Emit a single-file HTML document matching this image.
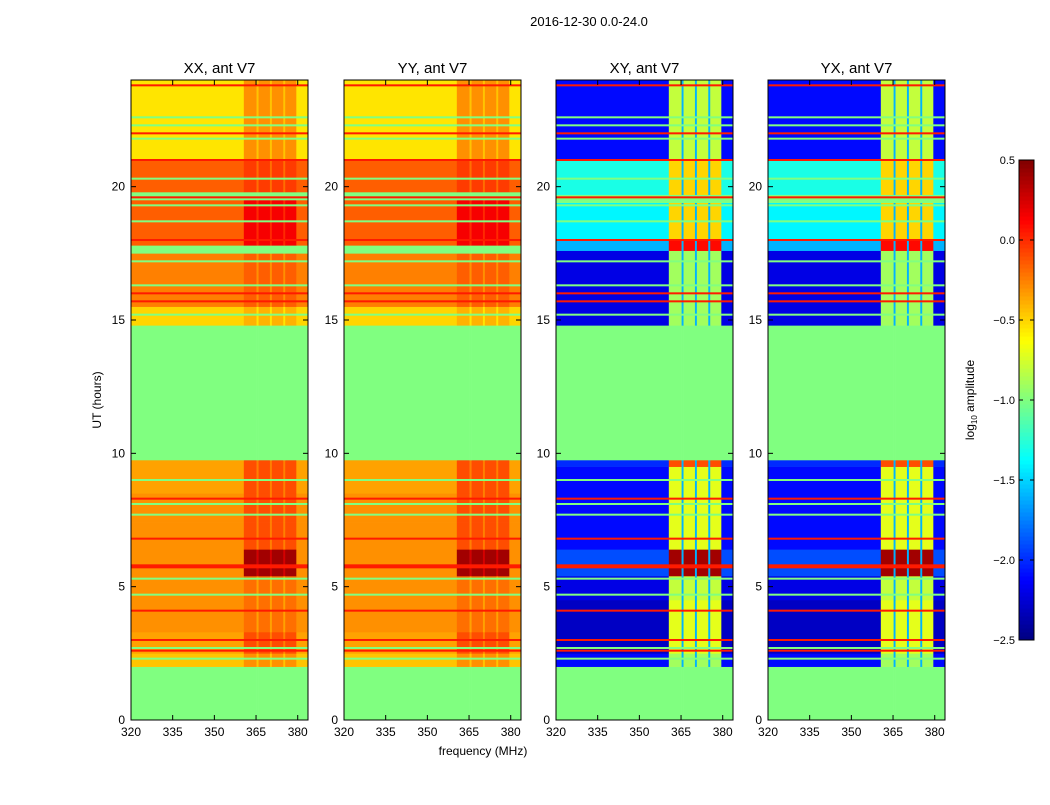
<!DOCTYPE html>
<html><head><meta charset="utf-8"><style>
body{margin:0;background:#fff;}
svg text{font-family:"Liberation Sans",sans-serif;}
</style></head><body>
<svg id="fig" width="1050" height="800" xmlns="http://www.w3.org/2000/svg">
<rect width="1050" height="800" fill="#fff"/>
<text x="589" y="26" font-size="13" text-anchor="middle">2016-12-30 0.0-24.0</text>
<text transform="translate(101,400) rotate(-90)" font-size="12" text-anchor="middle">UT (hours)</text>
<text x="483" y="755" font-size="12" text-anchor="middle">frequency (MHz)</text>
<g id="panels"></g>
<g id="cbar"></g>
</svg>
<script>
// ---- data ----
const panelTitles = ["XX, ant V7","YY, ant V7","XY, ant V7","YX, ant V7"];
const panelKind = ["par","par","cross","cross"];
const xTicks = [320,335,350,365,380];
const yTicks = [0,5,10,15,20];
const cbarTicks = [0.5,0.0,-0.5,-1.0,-1.5,-2.0,-2.5];
// frequency segments [start MHz, end MHz, type]
const freqSegs = [[320,360.6,'L'],[360.6,365.2,'H'],[365.2,365.9,'S'],[365.9,370,'H'],[370,370.7,'S'],[370.7,374.8,'H'],[374.8,375.5,'S'],[375.5,379.5,'H'],[379.5,383.7,'L']];
// time rows [start h, end h, low-band value, high-band value]
const parRows = [[0,2,-1,-1],[2,2.5,-0.45,-0.3],[2.5,3.3,-0.35,-0.1],[3.3,4.5,-0.3,-0.2],[4.5,5.4,-0.3,-0.2],[5.4,6.4,-0.3,0.4],[6.4,7.4,-0.3,-0.1],[7.4,8.5,-0.3,-0.1],[8.5,9.75,-0.35,-0.1],[9.75,14.8,-1,-1],[14.8,15.5,-0.5,-0.4],[15.5,17.5,-0.25,-0.15],[17.5,17.8,-1,-1],[17.8,19.5,-0.15,0.15],[19.5,19.8,-1,-1],[19.8,21,-0.15,-0.05],[21,22.5,-0.55,-0.3],[22.5,24,-0.55,-0.3]];
const crossRows = [[0,2,-1,-1],[2,2.5,-2.1,-0.9],[2.5,4.5,-2.3,-0.7],[4.5,5.4,-2.2,-0.8],[5.4,6.4,-1.9,0.4],[6.4,9.5,-2.1,-0.7],[9.5,9.75,-2.0,-0.1],[9.75,14.8,-1,-1],[14.8,17.6,-2.2,-0.9],[17.6,18,-1.6,0.1],[18,19.4,-1.4,-0.5],[19.4,19.7,-1,-1],[19.7,21,-1.3,-0.5],[21,24,-2.1,-0.8]];
const greenLines = [2.3,2.7,4.7,5.3,7.7,8.1,9.0,15.2,16.3,17.2,18.7,19.3,20.3,21.8,22.3,22.6];
const redLines = [2.6,3.0,4.1,5.8,6.8,8.3,15.7,16.0,18.0,19.6,21.0,22.0,23.8];
// ---- layout ----
const panelX = [131,344,556,768], panelW = 177, topY = 80, botY = 720;
const fmin = 320, fmax = 383.7, tmin = 0, tmax = 24, vmin = -2.5, vmax = 0.5;
const NS = "http://www.w3.org/2000/svg";
function jet(v){const t=Math.max(0,Math.min(1,(v-vmin)/(vmax-vmin)));const c=x=>Math.round(255*Math.max(0,Math.min(1,1.5-Math.abs(4*t-x))));return `rgb(${c(3)},${c(2)},${c(1)})`;}
function mk(tag,attrs,parent){const e=document.createElementNS(NS,tag);for(const k in attrs)e.setAttribute(k,attrs[k]);parent.appendChild(e);return e;}
const panels = document.getElementById('panels');
panelX.forEach((px,i)=>{
  const xs = f=>px+(f-fmin)/(fmax-fmin)*panelW;
  const ys = h=>botY-(h-tmin)/(tmax-tmin)*(botY-topY);
  const g = mk('g',{},panels);
  
  
  const rows = panelKind[i]==='par'?parRows:crossRows;
  rows.forEach(r=>{
    freqSegs.forEach(s=>{
      let v = s[2]==='L'?r[2]:r[3];
      if(s[2]==='S') v = (r[2]===-1&&r[3]===-1)?-1:(panelKind[i]==='par'?r[3]-0.15:-1.6);
      const rc = mk('rect',{x:xs(s[0]),y:ys(r[1]),width:xs(s[1])-xs(s[0])+0.3,height:ys(r[0])-ys(r[1])+0.3,fill:jet(v)},g);
      
      
    });
  });
  greenLines.forEach(h=>{const l=mk('rect',{x:px,y:ys(h)-1,width:panelW,height:2,fill:jet(-1)},g);
    
    });
  redLines.forEach(h=>{const l=mk('rect',{x:px,y:ys(h)-1,width:panelW,height:h===5.8?4:2,fill:jet(0.05)},g);
    
    });
  const fr = mk('rect',{x:px,y:topY,width:panelW,height:botY-topY,fill:'none',stroke:'#000','stroke-width':1},g);
  
  
  const t = mk('text',{x:px+panelW/2,y:73,'font-size':15,'text-anchor':'middle'},g); t.textContent=panelTitles[i];
  
  
  xTicks.forEach(f=>{const x=xs(f);
    mk('line',{x1:x,x2:x,y1:botY,y2:botY-5,stroke:'#000'},g);mk('line',{x1:x,x2:x,y1:topY,y2:topY+5,stroke:'#000'},g);
    const tl=mk('text',{x:x,y:botY+16,'font-size':12,'text-anchor':'middle'},g);tl.textContent=f;
    
    });
  yTicks.forEach(h=>{const y=ys(h);
    mk('line',{x1:px,x2:px+5,y1:y,y2:y,stroke:'#000'},g);mk('line',{x1:px+panelW,x2:px+panelW-5,y1:y,y2:y,stroke:'#000'},g);
    const tl=mk('text',{x:px-6,y:y+4,'font-size':12,'text-anchor':'end'},g);tl.textContent=h;
    
    });
});
// colorbar
const cb = document.getElementById('cbar');
const cbX=1019,cbW=15,cbTop=160,cbBot=640;
const cy = v=>cbBot-(v-vmin)/(vmax-vmin)*(cbBot-cbTop);
for(let k=0;k<120;k++){const v0=vmin+k*(vmax-vmin)/120,v1=vmin+(k+1)*(vmax-vmin)/120;
  const r=mk('rect',{x:cbX,y:cy(v1),width:cbW,height:cy(v0)-cy(v1)+0.5,fill:jet((v0+v1)/2)},cb);
  
  }
const cf=mk('rect',{x:cbX,y:cbTop,width:cbW,height:cbBot-cbTop,fill:'none',stroke:'#000'},cb);


cbarTicks.forEach(v=>{const y=cy(v);mk('line',{x1:cbX,x2:cbX+4,y1:y,y2:y,stroke:'#000'},cb);mk('line',{x1:cbX+cbW,x2:cbX+cbW-4,y1:y,y2:y,stroke:'#000'},cb);
  const tl=mk('text',{x:cbX-4,y:y+4,'font-size':11,'text-anchor':'end'},cb);tl.textContent=v.toFixed(1).replace('-','\u2212');
  
  });
const cl=mk('text',{transform:'translate(974,400) rotate(-90)','font-size':12,'text-anchor':'middle'},cb);
cl.innerHTML='log<tspan font-size="8" dy="3">10</tspan><tspan dy="-3"> amplitude</tspan>';


</script>
</body></html>
